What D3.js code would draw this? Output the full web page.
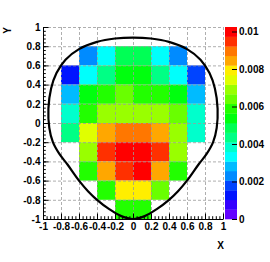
<!DOCTYPE html>
<html>
<head>
<meta charset="utf-8">
<script src="https://cdn.jsdelivr.net/npm/d3@7"></script>
<style>
  html, body { margin: 0; padding: 0; background: #fff; }
  #chart-container { width: 270px; height: 262px; }
</style>
</head>
<body>
<div id="chart-container"></div>
<script>
// bin edges of the 2D histogram (0.2 wide)
const xEdges = [-0.8, -0.6, -0.4, -0.2, 0, 0.2, 0.4, 0.6, 0.8];
const yEdges = [0.8, 0.6, 0.4, 0.2, 0, -0.2, -0.4, -0.6, -0.8, -1];

// bin contents, one row per y bin (top to bottom), null = empty bin
const binRows = [
  [null, 0.0023, 0.0033, 0.0049, 0.0049, 0.0033, 0.0023, null],
  [0.0013, 0.0033, 0.0044, 0.0054, 0.0054, 0.0044, 0.0033, 0.0018],
  [0.0028, 0.0054, 0.0059, 0.0064, 0.0059, 0.0059, 0.0054, 0.0028],
  [0.0038, 0.0059, 0.0069, 0.0069, 0.0069, 0.0069, 0.0064, 0.0038],
  [0.0044, 0.0074, 0.0085, 0.0090, 0.0090, 0.0085, 0.0069, 0.0038],
  [null, 0.0069, 0.0095, 0.0100, 0.0100, 0.0095, 0.0069, null],
  [null, 0.0059, 0.0085, 0.0095, 0.0100, 0.0085, 0.0059, null],
  [null, null, 0.0059, 0.0079, 0.0079, 0.0064, null, null],
  [null, null, null, 0.0059, 0.0059, null, null, null]
];

const zMax = 0.01024;
const contourCount = 20;

// axis ticks
const xTicks = [-1, -0.8, -0.6, -0.4, -0.2, 0, 0.2, 0.4, 0.6, 0.8, 1];
const xTickLabels = ["-1", "-0.8", "-0.6", "-0.4", "-0.2", "0", "0.2", "0.4", "0.6", "0.8", "1"];
const yTicks = [-1, -0.8, -0.6, -0.4, -0.2, 0, 0.2, 0.4, 0.6, 0.8, 1];
const yTickLabels = ["-1", "-0.8", "-0.6", "-0.4", "-0.2", "0", "0.2", "0.4", "0.6", "0.8", "1"];
const zTicks = [0, 0.002, 0.004, 0.006, 0.008, 0.01];
const zTickLabels = ["0", "0.002", "0.004", "0.006", "0.008", "0.01"];

// black boundary curve (counter-clockwise from the top)
const boundaryX = [0, -0.2, -0.4, -0.6, -0.75, -0.85, -0.91, -0.94, -0.93, -0.89, -0.82, -0.73, -0.6, -0.5, -0.4, -0.26, -0.13,
  0, 0.13, 0.26, 0.4, 0.5, 0.6, 0.73, 0.82, 0.89, 0.93, 0.94, 0.91, 0.85, 0.75, 0.6, 0.4, 0.2];
const boundaryY = [0.89, 0.88, 0.845, 0.77, 0.66, 0.52, 0.36, 0.15, -0.05, -0.2, -0.32, -0.43, -0.6, -0.71, -0.8, -0.9, -0.97,
  -1, -0.97, -0.9, -0.8, -0.71, -0.6, -0.43, -0.32, -0.2, -0.05, 0.15, 0.36, 0.52, 0.66, 0.77, 0.845, 0.88];

const font = "'Liberation Sans', Arial, Helvetica, sans-serif";

// ROOT style rainbow palette: 50 hues violet -> red, picked by contour band
function paletteColor(v) {
  let band = Math.floor((v / zMax) * contourCount);
  band = Math.max(0, Math.min(contourCount - 1, band));
  const ci = Math.floor((band + 0.99) * 50 / contourCount);
  const hue = 280 - (ci + 1) * (280 / 50);
  return d3.hsl(hue, 1, 0.5).formatHex();
}

const svg = d3.select("#chart-container")
  .append("svg")
  .attr("width", 270)
  .attr("height", 262)
  .attr("font-family", font);

const x = d3.scaleLinear().domain([-1, 1]).range([43, 223]);
const y = d3.scaleLinear().domain([-1, 1]).range([219, 27]);
const z = d3.scaleLinear().domain([0, zMax]).range([219, 27]);

// cells
const cells = [];
binRows.forEach((row, r) => {
  row.forEach((v, c) => {
    if (v !== null) {
      cells.push({ x0: xEdges[c], x1: xEdges[c + 1], y0: yEdges[r + 1], y1: yEdges[r], v });
    }
  });
});

svg.append("g")
  .selectAll("rect")
  .data(cells)
  .join("rect")
  .attr("x", (d) => x(d.x0))
  .attr("y", (d) => y(d.y1))
  .attr("width", (d) => x(d.x1) - x(d.x0))
  .attr("height", (d) => y(d.y0) - y(d.y1))
  .attr("fill", (d) => paletteColor(d.v));

// dotted grid on top of the cells
const grid = svg.append("g")
  .attr("stroke", "#9a9a9a")
  .attr("stroke-width", 0.8)
  .attr("stroke-dasharray", "3,2");

grid.selectAll("line.gx")
  .data(xTicks)
  .join("line")
  .attr("class", "gx")
  .attr("x1", (d) => x(d) + 0.5)
  .attr("x2", (d) => x(d) + 0.5)
  .attr("y1", y(1))
  .attr("y2", y(-1));

grid.selectAll("line.gy")
  .data(yTicks)
  .join("line")
  .attr("class", "gy")
  .attr("x1", x(-1))
  .attr("x2", x(1))
  .attr("y1", (d) => y(d) + 0.5)
  .attr("y2", (d) => y(d) + 0.5);

// boundary
const boundary = boundaryX.map((bx, i) => [bx, boundaryY[i]]);
svg.append("path")
  .datum(boundary)
  .attr("fill", "none")
  .attr("stroke", "#000")
  .attr("stroke-width", 2.2)
  .attr("d", d3.line().x((d) => x(d[0])).y((d) => y(d[1])).curve(d3.curveCatmullRomClosed.alpha(0.5)));

// minor ticks
const minorX = d3.range(-1, 1.0001, 0.04);
const minorY = d3.range(-1, 1.0001, 0.04);

function styleAxis(g) {
  g.selectAll("text")
    .attr("font-family", font)
    .attr("font-weight", "bold")
    .attr("font-size", 10)
    .attr("fill", "#000");
  g.selectAll("line").attr("stroke", "#000");
}

svg.append("g")
  .attr("transform", `translate(0,${y(-1)})`)
  .call(d3.axisBottom(x).tickValues(minorX).tickSize(-2.8).tickSizeOuter(0).tickFormat(""))
  .call((g) => g.select(".domain").remove())
  .call(styleAxis);

svg.append("g")
  .attr("transform", `translate(${x(-1)},0)`)
  .call(d3.axisLeft(y).tickValues(minorY).tickSize(-2.8).tickSizeOuter(0).tickFormat(""))
  .call((g) => g.select(".domain").remove())
  .call(styleAxis);

svg.append("g")
  .attr("transform", `translate(0,${y(-1)})`)
  .call(d3.axisBottom(x).tickValues(xTicks).tickSize(-5.5).tickSizeOuter(0).tickPadding(4)
    .tickFormat((d, i) => xTickLabels[i]))
  .call((g) => g.select(".domain").attr("stroke", "#000"))
  .call(styleAxis);

svg.append("g")
  .attr("transform", `translate(${x(-1)},0)`)
  .call(d3.axisLeft(y).tickValues(yTicks).tickSize(-5.5).tickSizeOuter(0).tickPadding(2.5)
    .tickFormat((d, i) => yTickLabels[i]))
  .call((g) => g.select(".domain").attr("stroke", "#000"))
  .call(styleAxis);

// palette
const bandH = (z(0) - z(zMax)) / contourCount;
svg.append("g")
  .selectAll("rect")
  .data(d3.range(contourCount))
  .join("rect")
  .attr("x", 225)
  .attr("y", (d) => z((d + 1) * zMax / contourCount))
  .attr("width", 12)
  .attr("height", bandH + 0.3)
  .attr("fill", (d) => paletteColor((d + 0.5) * zMax / contourCount));

svg.append("g")
  .attr("transform", "translate(237,0)")
  .call(d3.axisRight(z).tickValues(zTicks).tickSize(-5).tickSizeOuter(0).tickPadding(2)
    .tickFormat((d, i) => zTickLabels[i]))
  .call((g) => g.select(".domain").remove())
  .call(styleAxis);

// axis titles
svg.append("text")
  .attr("transform", `translate(11,${y(1)}) rotate(-90)`)
  .attr("text-anchor", "end")
  .attr("font-weight", "bold")
  .attr("font-size", 10)
  .text("Y");

svg.append("text")
  .attr("x", 224)
  .attr("y", 249)
  .attr("text-anchor", "end")
  .attr("font-weight", "bold")
  .attr("font-size", 10)
  .text("X");
</script>
</body>
</html>
